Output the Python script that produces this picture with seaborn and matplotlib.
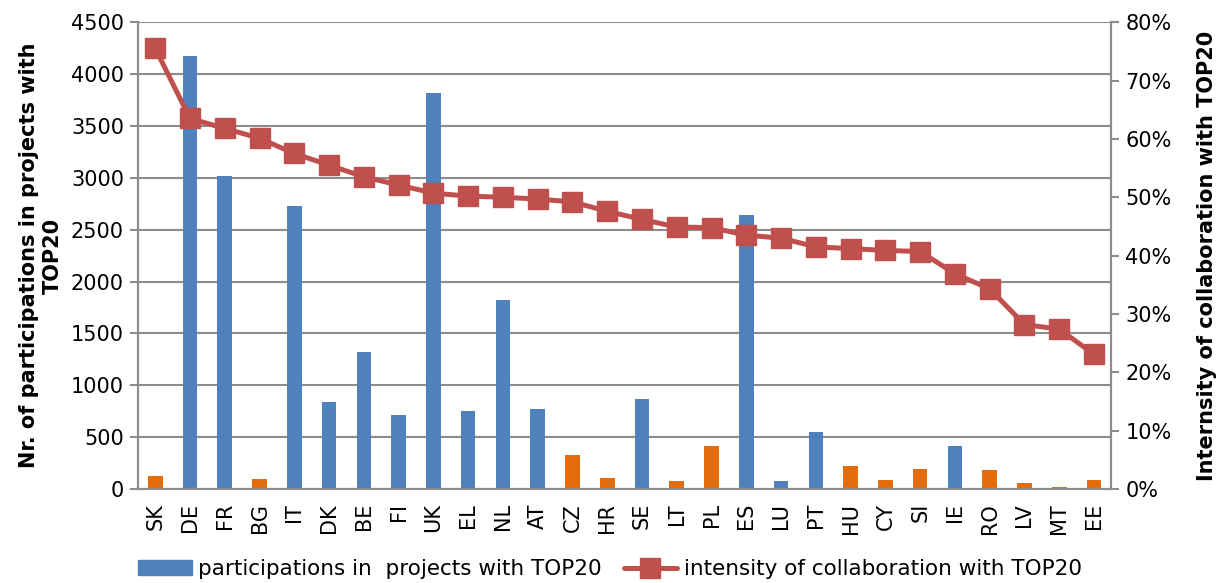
import numpy as np
import pandas as pd
import matplotlib
matplotlib.use("Agg")
import matplotlib.pyplot as plt
from matplotlib.ticker import MultipleLocator, PercentFormatter, FixedLocator
from matplotlib.patches import Patch
from matplotlib.lines import Line2D
import seaborn as sns

countries = ["SK", "DE", "FR", "BG", "IT", "DK", "BE", "FI", "UK", "EL", "NL", "AT", "CZ", "HR",
             "SE", "LT", "PL", "ES", "LU", "PT", "HU", "CY", "SI", "IE", "RO", "LV", "MT", "EE"]
participations = [125, 4170, 3020, 100, 2730, 835, 1320, 710, 3820, 750, 1820, 775, 330, 110,
                  870, 80, 415, 2640, 75, 555, 220, 85, 190, 415, 185, 60, 20, 85]
intensity = [75.5, 63.5, 61.8, 60.1, 57.5, 55.5, 53.5, 52.1, 50.7, 50.2, 50.0, 49.7, 49.2, 47.6,
             46.2, 44.9, 44.8, 43.5, 43.0, 41.5, 41.2, 40.9, 40.7, 36.9, 34.3, 28.2, 27.4, 23.1]
group = ["EU13", "EU15", "EU15", "EU13", "EU15", "EU15", "EU15", "EU15", "EU15", "EU15", "EU15",
         "EU15", "EU13", "EU13", "EU15", "EU13", "EU13", "EU15", "EU15", "EU15", "EU13", "EU13",
         "EU13", "EU15", "EU13", "EU13", "EU13", "EU13"]

BLUE = "#4F81BD"
ORANGE = "#E46C0A"
RED = "#C0504D"
GRID = "#8C8C8C"

sns.set_style("white")
plt.rcParams["font.family"] = ["DejaVu Sans"]
plt.rcParams["text.color"] = "black"
plt.rcParams["axes.labelcolor"] = "black"
plt.rcParams["xtick.color"] = "black"
plt.rcParams["ytick.color"] = "black"

df = pd.DataFrame({"country": countries, "participations": participations,
                   "intensity": np.array(intensity) / 100.0, "group": group})

fig = plt.figure(figsize=(12.2, 5.83), dpi=100)
ax = fig.add_axes([0.113, 0.161, 0.798, 0.801])

sns.barplot(data=df, x="country", y="participations", hue="group",
            palette={"EU15": BLUE, "EU13": ORANGE}, dodge=False, width=0.42,
            saturation=1, linewidth=0, legend=False, ax=ax, zorder=2)

ax.set_ylim(0, 4500)
ax.yaxis.set_major_locator(MultipleLocator(500))
ax.set_xlim(-0.5, len(countries) - 0.5)
ax.grid(axis="y", color=GRID, linewidth=1.5, zorder=0)
ax.set_axisbelow(True)
ax.set_xlabel("")
ax.set_ylabel("Nr. of participations in projects with\nTOP20", fontsize=15,
              fontweight="bold", labelpad=6)
ax.tick_params(axis="y", labelsize=15, length=6, color=GRID, labelcolor="black",
               width=1.5, pad=4)
ax.tick_params(axis="x", which="major", labelsize=15, length=0, rotation=90, pad=10,
               labelcolor="black")
ax.xaxis.set_minor_locator(FixedLocator(np.arange(-0.5, len(countries), 1.0)))
ax.tick_params(axis="x", which="minor", length=7, color=GRID, width=1.5)
for side in ["left", "bottom", "right"]:
    ax.spines[side].set_color(GRID)
    ax.spines[side].set_linewidth(1.5)
ax.spines["top"].set_visible(False)

ax2 = ax.twinx()
ax2.plot(np.arange(len(countries)), df["intensity"], color=RED, linewidth=3.6,
         marker="s", markersize=14, zorder=3)
ax2.set_ylim(0, 0.8)
ax2.yaxis.set_major_locator(MultipleLocator(0.1))
ax2.yaxis.set_major_formatter(PercentFormatter(1.0, decimals=0))
ax2.tick_params(axis="y", labelsize=15, length=6, color=GRID, labelcolor="black",
                width=1.5, pad=4)
ax2.set_ylabel("Internsity of collaboration with TOP20", fontsize=15,
               fontweight="bold", labelpad=18)
for side in ["left", "bottom", "right"]:
    ax2.spines[side].set_color(GRID)
    ax2.spines[side].set_linewidth(1.5)
ax2.spines["top"].set_visible(False)

handles = [Patch(facecolor=BLUE, edgecolor=BLUE),
           Line2D([0], [0], color=RED, linewidth=3.6, marker="s", markersize=14)]
labels = ["participations in  projects with TOP20", "intensity of collaboration with TOP20"]
fig.legend(handles, labels, loc="lower center", bbox_to_anchor=(0.5, -0.027), ncol=2,
           frameon=False, fontsize=15.5, handlelength=2.5, columnspacing=1.0,
           handletextpad=0.3)

fig.savefig("out.png", dpi=100)
